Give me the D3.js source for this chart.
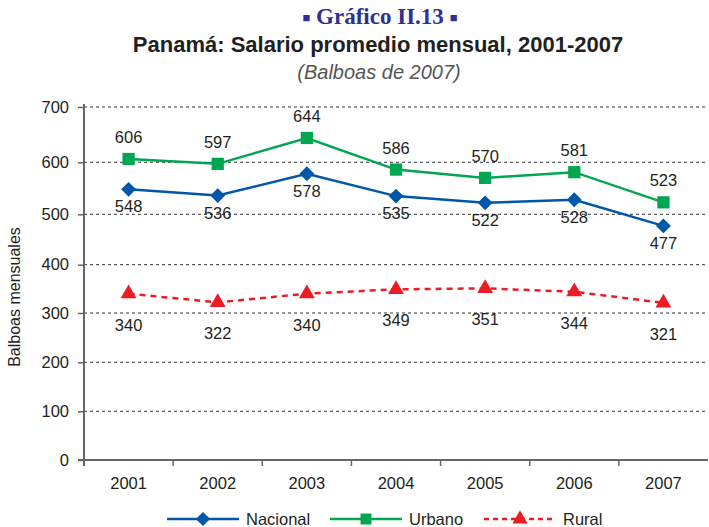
<!DOCTYPE html>
<html><head><meta charset="utf-8">
<script src="https://cdn.jsdelivr.net/npm/d3@7"></script>
<style>body{margin:0;background:#fff}svg{display:block}</style>
</head><body>
<svg id="c" width="709" height="527"></svg>
<script>
const years = ["2001","2002","2003","2004","2005","2006","2007"];
const nacional = [548,536,578,535,522,528,477];
const urbano = [606,597,644,586,570,581,523];
const rural = [340,322,340,349,351,344,321];
const yTicks = [0,100,200,300,400,500,600,700];

const svg = d3.select("#c");
const x = d3.scaleBand().domain(years).range([84, 708]);
const cx = d => x(d) + x.bandwidth()/2;
const y = d3.scaleLinear().domain(yTicks).range([460,411.3,362.3,313,264.7,214.3,162.3,107]);

const font = "Liberation Sans, Arial, sans-serif";
const FS = 16.5;

// titles
const t1 = svg.append("text").attr("x",380).attr("y",24).attr("text-anchor","middle")
  .attr("font-family","Liberation Serif, DejaVu Serif, serif").attr("font-weight","bold")
  .attr("font-size",23).attr("fill","#2e3192");
t1.append("tspan").text("\u25A0").attr("font-size",13).attr("dy",-2);
t1.append("tspan").text("  Gráfico II.13  ").attr("dy",2);
t1.append("tspan").text("\u25A0").attr("font-size",13).attr("dy",-2);
svg.append("text").attr("x",378).attr("y",52).attr("text-anchor","middle")
  .attr("font-family",font).attr("font-weight","bold").attr("font-size",22).attr("fill","#231f20")
  .text("Panamá: Salario promedio mensual, 2001-2007");
svg.append("text").attr("x",379).attr("y",79).attr("text-anchor","middle")
  .attr("font-family",font).attr("font-style","italic").attr("font-size",20).attr("fill","#555")
  .text("(Balboas de 2007)");

// gridlines
svg.append("g").selectAll("line").data(yTicks.filter(v=>v>0)).join("line")
  .attr("x1",84).attr("x2",707).attr("y1",d=>y(d)).attr("y2",d=>y(d))
  .attr("stroke","#333").attr("stroke-width",1).attr("stroke-dasharray","3,3");

// y axis
const yAxis = svg.append("g").attr("transform","translate(84,0)")
  .call(d3.axisLeft(y).tickValues(yTicks).tickSize(6).tickPadding(9));
yAxis.select(".domain").attr("stroke","#666").attr("stroke-width",2).attr("d","M0,104V466");
yAxis.selectAll(".tick line").attr("stroke","#666").attr("stroke-width",1.5);
yAxis.selectAll(".tick text").attr("font-family",font).attr("font-size",FS).attr("fill","#231f20");

// x axis
const xAxis = svg.append("g").attr("transform","translate(0,460)")
  .call(d3.axisBottom(x).tickSize(0).tickPadding(17));
xAxis.select(".domain").attr("stroke","#666").attr("stroke-width",2).attr("d","M78,0H708");
xAxis.selectAll(".tick text").attr("font-family",font).attr("font-size",FS).attr("fill","#231f20");
svg.append("g").selectAll("line").data(years.slice(1)).join("line")
  .attr("x1",d=>x(d)).attr("x2",d=>x(d)).attr("y1",460).attr("y2",466)
  .attr("stroke","#666").attr("stroke-width",1.5);

svg.append("text").attr("transform","translate(20,297) rotate(-90)").attr("text-anchor","middle")
  .attr("font-family",font).attr("font-size",16).attr("fill","#231f20").text("Balboas mensuales");

const series = [
  {vals:urbano, color:"#00a651", dash:null, sym:d3.symbolSquare, size:150, rot:0, dy:-16},
  {vals:nacional, color:"#0056a8", dash:null, sym:d3.symbolSquare, size:110, rot:45, dy:23},
  {vals:rural, color:"#ed1c24", dash:"6,5", sym:d3.symbolTriangle, size:110, rot:0, dy:37},
];
const line = d3.line().x((d,i)=>cx(years[i])).y(d=>y(d));
series.forEach(s=>{
  svg.append("path").datum(s.vals).attr("d",line).attr("fill","none")
    .attr("stroke",s.color).attr("stroke-width",2.5).attr("stroke-dasharray",s.dash);
  svg.append("g").selectAll("path").data(s.vals).join("path")
    .attr("transform",(d,i)=>`translate(${cx(years[i])},${y(d)}) rotate(${s.rot})`)
    .attr("d",d3.symbol().type(s.sym).size(s.size)).attr("fill",s.color);
  svg.append("g").selectAll("text").data(s.vals).join("text")
    .attr("x",(d,i)=>cx(years[i])).attr("y",d=>y(d)+s.dy).attr("text-anchor","middle")
    .attr("font-family",font).attr("font-size",FS).attr("fill","#231f20").text(d=>d);
});

// legend
const legend = [
  {name:"Nacional", color:"#0056a8", dash:null, sym:d3.symbolSquare, size:100, rot:45, x0:167},
  {name:"Urbano", color:"#00a651", dash:null, sym:d3.symbolSquare, size:120, rot:0, x0:330},
  {name:"Rural", color:"#ed1c24", dash:"5,4", sym:d3.symbolTriangle, size:100, rot:0, x0:484},
];
legend.forEach(l=>{
  const ly = 519;
  svg.append("line").attr("x1",l.x0).attr("x2",l.x0+72).attr("y1",ly).attr("y2",ly)
    .attr("stroke",l.color).attr("stroke-width",2.5).attr("stroke-dasharray",l.dash);
  svg.append("path").attr("transform",`translate(${l.x0+36},${ly}) rotate(${l.rot})`)
    .attr("d",d3.symbol().type(l.sym).size(l.size)).attr("fill",l.color);
  svg.append("text").attr("x",l.x0+79).attr("y",ly+6).attr("font-family",font)
    .attr("font-size",FS).attr("fill","#231f20").text(l.name);
});
</script>
</body></html>
